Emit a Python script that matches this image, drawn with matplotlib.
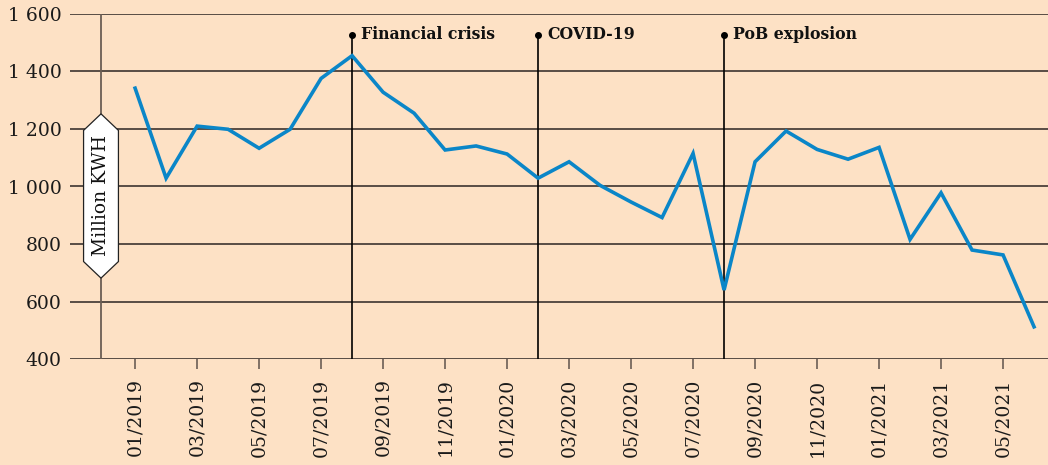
import matplotlib
matplotlib.use("Agg")
import matplotlib.pyplot as plt
from matplotlib.path import Path
from matplotlib.ticker import FuncFormatter

months = ["01/2019", "02/2019", "03/2019", "04/2019", "05/2019", "06/2019",
          "07/2019", "08/2019", "09/2019", "10/2019", "11/2019", "12/2019",
          "01/2020", "02/2020", "03/2020", "04/2020", "05/2020", "06/2020",
          "07/2020", "08/2020", "09/2020", "10/2020", "11/2020", "12/2020",
          "01/2021", "02/2021", "03/2021", "04/2021", "05/2021", "06/2021"]
consumption = [1342, 1029, 1210, 1199, 1133, 1199, 1376, 1455, 1328, 1255,
               1127, 1141, 1113, 1029, 1086, 1004, 946, 892, 1115, 640,
               1086, 1193, 1129, 1095, 1136, 816, 978, 779, 762, 512]
event_months = ["08/2019", "02/2020", "08/2020"]
event_labels = ["Financial crisis", "COVID-19", "PoB explosion"]
y_ticks = [400, 600, 800, 1000, 1200, 1400, 1600]
y_label = "Million KWH"

BG = "#FDE1C5"
LINE = "#0A86C8"
GRID = "#2b2522"
AXC = "#6b5e55"
FONT = ["DejaVu Serif"]

plt.rcParams["font.family"] = FONT

W, H = 1048, 465
fig = plt.figure(figsize=(W / 100, H / 100), dpi=100)
fig.patch.set_facecolor(BG)
ax = fig.add_axes([70 / W, 1 - 359 / H, (W - 70) / W, (359 - 14) / H])
ax.set_facecolor(BG)

x = list(range(len(months)))
ax.set_xlim(-2.1, 29.45)
ax.set_ylim(400, 1600)

for s in ax.spines.values():
    s.set_visible(False)

ax.set_yticks(y_ticks)
ax.yaxis.set_major_formatter(FuncFormatter(lambda v, p: f"{int(v):,}".replace(",", " ")))
for v in y_ticks:
    ax.axhline(v, color=GRID, lw=1.1, zorder=1)
ax.tick_params(axis="y", length=0, pad=6, labelsize=13.5, colors="#1a1a1a")

xt = x[::2]
ax.set_xticks(xt)
ax.set_xticklabels([months[i] for i in xt], rotation=90, fontsize=13.5, color="#1a1a1a")
ax.tick_params(axis="x", length=7, width=1.2, color=AXC, pad=7)

# left axis line
ax.axvline(-1.1, color=AXC, lw=1.3, zorder=1)

# events
for m, lab in zip(event_months, event_labels):
    xi = months.index(m)
    ax.plot([xi, xi], [400, 1527], color="black", lw=1.2, zorder=2)
    ax.plot([xi], [1527], "o", color="black", ms=4, zorder=3)
    ax.text(xi + 0.3, 1527, lab, fontsize=11.3, fontweight="bold", va="center", ha="left",
            color="#111111")

ax.plot(x, consumption, color=LINE, lw=2.6, zorder=4, solid_joinstyle="miter")


def hexbox(x0, y0, width, height, mutation_size):
    pad = 0.45 * mutation_size
    tip = height * 0.5 + pad
    x0 -= pad * 0.6
    width += pad * 1.2
    y0 -= pad
    height += 2 * pad
    ym = y0 + height / 2
    verts = [(x0 - tip * 0.95, ym), (x0, y0 + height), (x0 + width, y0 + height),
             (x0 + width + tip * 0.95, ym), (x0 + width, y0), (x0, y0), (x0 - tip * 0.95, ym)]
    codes = [Path.MOVETO] + [Path.LINETO] * 5 + [Path.CLOSEPOLY]
    return Path(verts, codes)


ax.text(-1.1, 967, y_label, rotation=90, fontsize=13.5, ha="center", va="center",
        color="#111111", zorder=5,
        bbox=dict(boxstyle=hexbox, facecolor="white", edgecolor="#222222", lw=0.9,
                  mutation_scale=13))

fig.savefig("out.png", dpi=100, facecolor=BG)
